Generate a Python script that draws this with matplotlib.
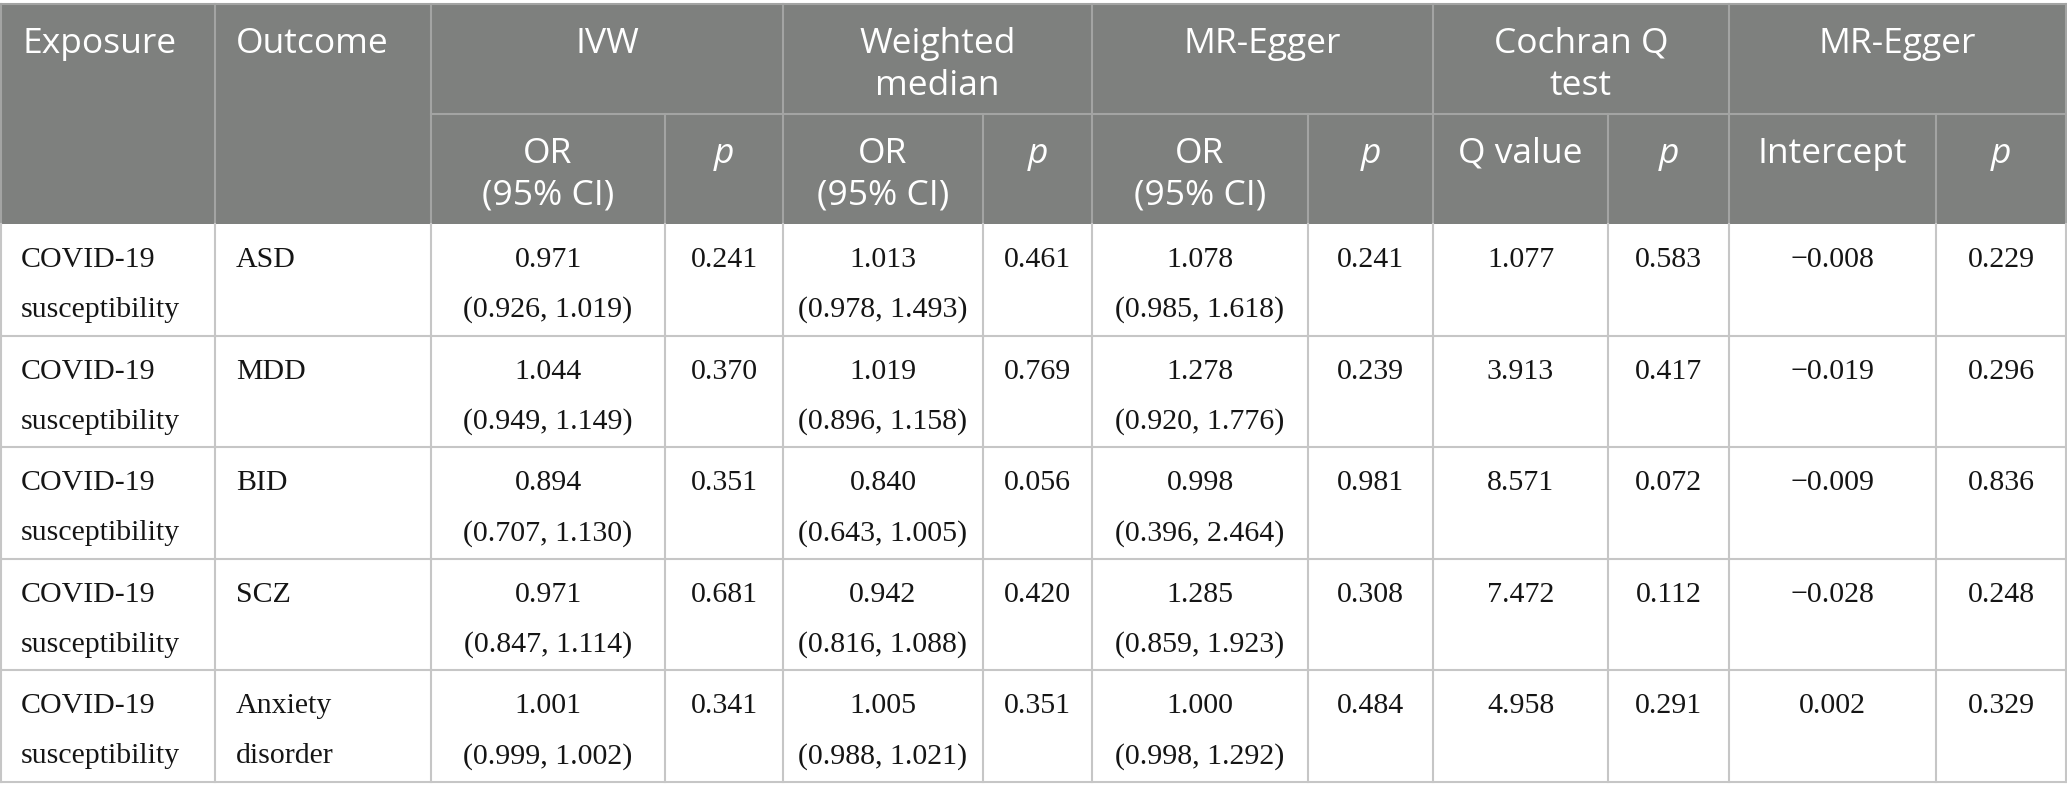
import matplotlib
matplotlib.use("Agg")
import matplotlib.pyplot as plt
from matplotlib.patches import Rectangle

# table data
exposure = ["COVID-19\nsusceptibility"] * 5
outcome = ["ASD", "MDD", "BID", "SCZ", "Anxiety\ndisorder"]
ivw_or = ["0.971", "1.044", "0.894", "0.971", "1.001"]
ivw_ci = ["(0.926, 1.019)", "(0.949, 1.149)", "(0.707, 1.130)", "(0.847, 1.114)", "(0.999, 1.002)"]
ivw_p = ["0.241", "0.370", "0.351", "0.681", "0.341"]
wm_or = ["1.013", "1.019", "0.840", "0.942", "1.005"]
wm_ci = ["(0.978, 1.493)", "(0.896, 1.158)", "(0.643, 1.005)", "(0.816, 1.088)", "(0.988, 1.021)"]
wm_p = ["0.461", "0.769", "0.056", "0.420", "0.351"]
egger_or = ["1.078", "1.278", "0.998", "1.285", "1.000"]
egger_ci = ["(0.985, 1.618)", "(0.920, 1.776)", "(0.396, 2.464)", "(0.859, 1.923)", "(0.998, 1.292)"]
egger_p = ["0.241", "0.239", "0.981", "0.308", "0.484"]
q_value = ["1.077", "3.913", "8.571", "7.472", "4.958"]
q_p = ["0.583", "0.417", "0.072", "0.112", "0.291"]
intercept = ["\u22120.008", "\u22120.019", "\u22120.009", "\u22120.028", "0.002"]
intercept_p = ["0.229", "0.296", "0.836", "0.248", "0.329"]

groups = ["IVW", "Weighted\nmedian", "MR-Egger", "Cochran Q\ntest", "MR-Egger"]
subheads = ["OR\n(95% CI)", "p", "OR\n(95% CI)", "p", "OR\n(95% CI)", "p",
            "Q value", "p", "Intercept", "p"]

# layout (pixels)
W, H = 2067, 800
xs = [1, 215, 431, 665, 783, 983, 1092, 1308, 1433, 1608, 1729, 1936, 2066]
y_top, y_mid, y_head = 4, 114, 224
row_h = 111.6
HEAD_BG = "#7e807e"
HEAD_LINE = "#a3a4a3"
BODY_LINE = "#c6c6c6"
sans = ["Open Sans", "DejaVu Sans"]
serif = ["Liberation Serif", "DejaVu Serif"]
hfs = 25.5
bfs = 21.5

fig = plt.figure(figsize=(W / 100, H / 100), dpi=100)
ax = fig.add_axes([0, 0, 1, 1])
ax.set_xlim(0, W)
ax.set_ylim(H, 0)
ax.axis("off")

# header background
ax.add_patch(Rectangle((xs[0], y_top), xs[-1] - xs[0], y_head - y_top,
                       facecolor=HEAD_BG, edgecolor="none"))

# header lines
ax.plot([xs[0], xs[-1]], [y_top, y_top], color=HEAD_LINE, lw=1.5)
ax.plot([xs[2], xs[-1]], [y_mid, y_mid], color=HEAD_LINE, lw=1.5)
for i, x in enumerate(xs):
    if i in (0, 1, 2, 4, 6, 8, 10, 12):
        ax.plot([x, x], [y_top, y_head], color=HEAD_LINE, lw=1.5)
    else:
        ax.plot([x, x], [y_mid, y_head], color=HEAD_LINE, lw=1.5)

# header text
ax.text(xs[0] + 21, y_top + 49, "Exposure", color="white", fontsize=hfs,
        family=sans, va="baseline", ha="left")
ax.text(xs[1] + 21, y_top + 49, "Outcome", color="white", fontsize=hfs,
        family=sans, va="baseline", ha="left")
for g, label in enumerate(groups):
    x0, x1 = xs[2 + 2 * g], xs[4 + 2 * g]
    for k, line in enumerate(label.split("\n")):
        ax.text((x0 + x1) / 2, y_top + 49 + k * 42, line, color="white",
                fontsize=hfs, family=sans, va="baseline", ha="center")
for c, label in enumerate(subheads):
    x0, x1 = xs[2 + c], xs[3 + c]
    style = "italic" if label == "p" else "normal"
    for k, line in enumerate(label.split("\n")):
        ax.text((x0 + x1) / 2, y_mid + 49 + k * 42, line, color="white",
                fontsize=hfs, family=sans, style=style, va="baseline", ha="center")

# body
cols = [ivw_or, ivw_p, wm_or, wm_p, egger_or, egger_p, q_value, q_p, intercept, intercept_p]
cis = {0: ivw_ci, 2: wm_ci, 4: egger_ci}
for r in range(len(outcome)):
    top = y_head + r * row_h
    bot = top + row_h
    ax.plot([xs[0], xs[-1]], [bot, bot], color=BODY_LINE, lw=1.5)
    for x in xs:
        ax.plot([x, x], [top, bot], color=BODY_LINE, lw=1.5)
    for k, line in enumerate(exposure[r].split("\n")):
        ax.text(xs[0] + 20, top + 43 + k * 50, line, fontsize=bfs, family=serif,
                va="baseline", ha="left", color="#151515")
    for k, line in enumerate(outcome[r].split("\n")):
        ax.text(xs[1] + 21, top + 43 + k * 50, line, fontsize=bfs, family=serif,
                va="baseline", ha="left", color="#151515")
    for c, vals in enumerate(cols):
        cx = (xs[2 + c] + xs[3 + c]) / 2
        ax.text(cx, top + 43, vals[r], fontsize=bfs, family=serif,
                va="baseline", ha="center", color="#151515")
        if c in cis:
            ax.text(cx, top + 93, cis[c][r], fontsize=bfs, family=serif,
                    va="baseline", ha="center", color="#151515")

fig.savefig("out.png", dpi=100, facecolor="white")
